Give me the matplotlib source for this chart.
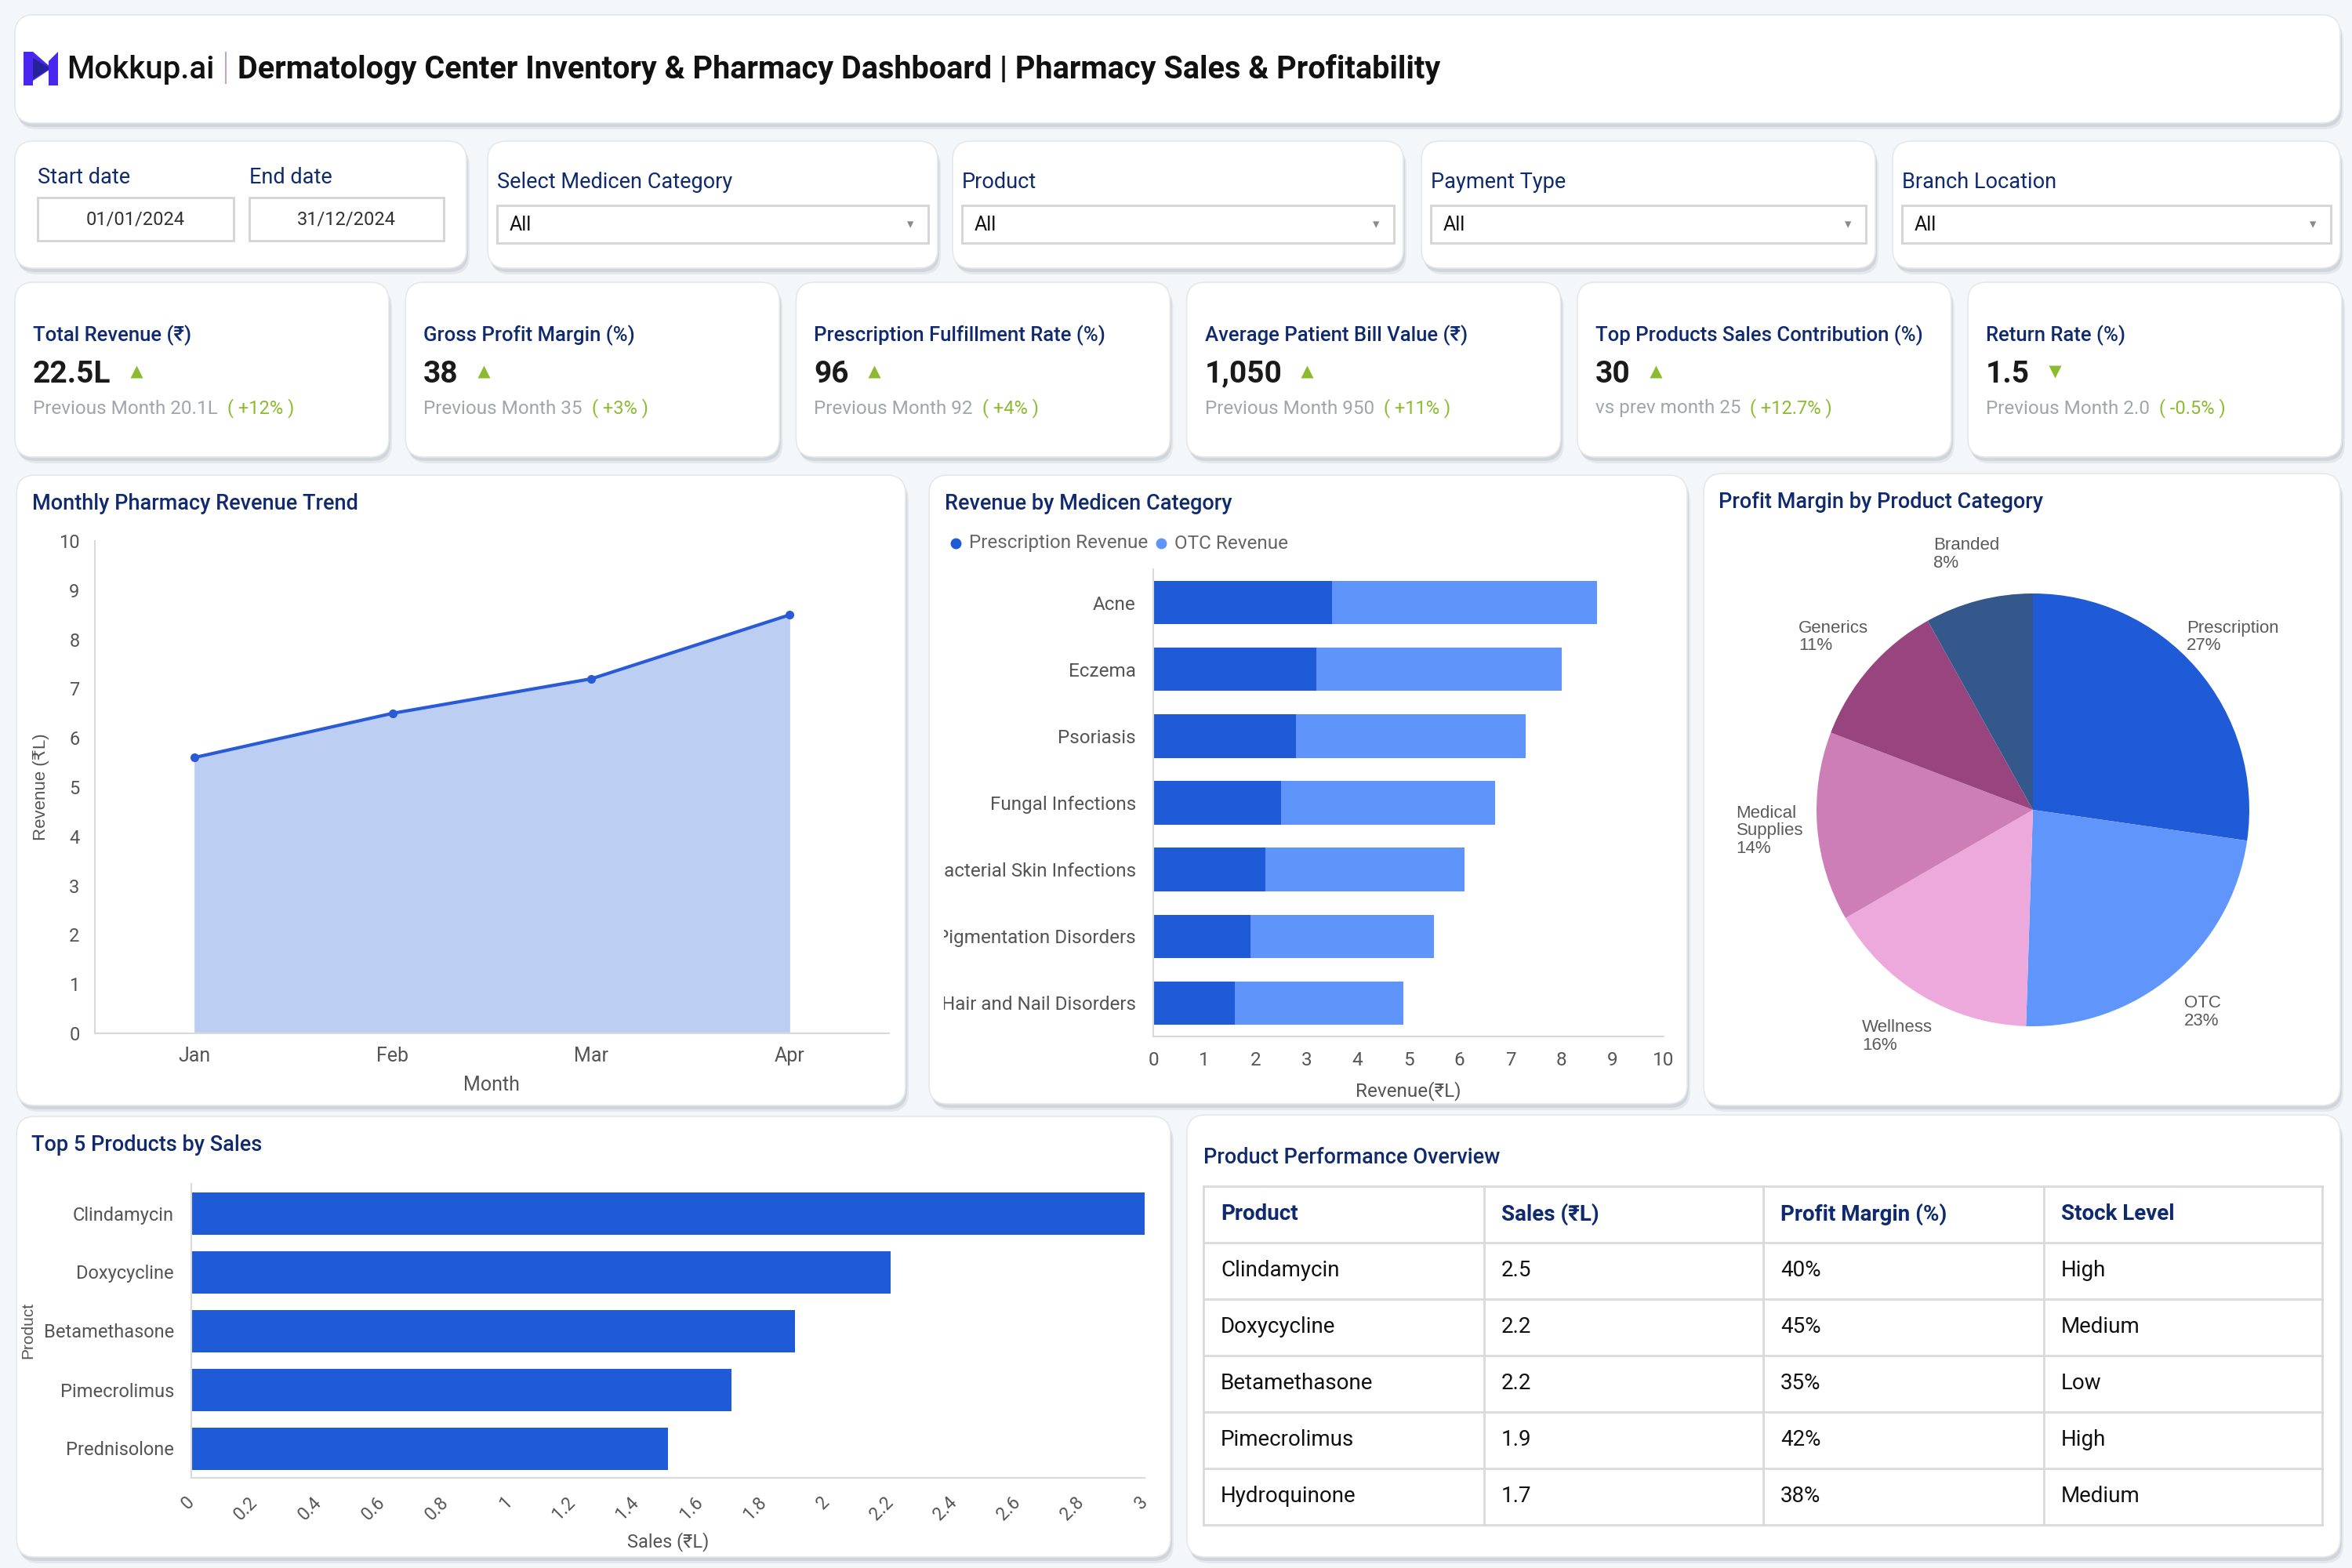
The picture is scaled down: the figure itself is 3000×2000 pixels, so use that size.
import matplotlib
matplotlib.use('Agg')
import matplotlib.pyplot as plt
import numpy as np
from matplotlib.patches import FancyBboxPatch, Rectangle, Polygon
from matplotlib.transforms import Bbox, TransformedBbox

W, H = 3000, 2000
plt.rcParams['font.family'] = ['Roboto', 'DejaVu Sans']
ARIAL = ['Liberation Sans', 'DejaVu Sans']

NAVY = '#0f2a6e'
BLUE = '#1f5bd6'
LIGHT = '#5f95fb'
GREEN = '#8cbb2f'
GRAY = '#555555'

# ---- data ----
header_title = 'Dermatology Center Inventory & Pharmacy Dashboard | Pharmacy Sales & Profitability'
start_date, end_date = '01/01/2024', '31/12/2024'
filter_labels = ['Select Medicen Category', 'Product', 'Payment Type', 'Branch Location']

kpi_titles = ['Total Revenue (₹)', 'Gross Profit Margin (%)', 'Prescription Fulfillment Rate (%)',
              'Average Patient Bill Value (₹)', 'Top Products Sales Contribution (%)', 'Return Rate (%)']
kpi_values = ['22.5L', '38', '96', '1,050', '30', '1.5']
kpi_prev = ['Previous Month 20.1L', 'Previous Month 35', 'Previous Month 92',
            'Previous Month 950', 'vs prev month 25', 'Previous Month 2.0']
kpi_delta = ['+12%', '+3%', '+4%', '+11%', '+12.7%', '-0.5%']
kpi_up = [True, True, True, True, True, False]

months = ['Jan', 'Feb', 'Mar', 'Apr']
month_revenue = [5.6, 6.5, 7.2, 8.5]

med_categories = ['Acne', 'Eczema', 'Psoriasis', 'Fungal Infections', 'Bacterial Skin Infections',
                  'Pigmentation Disorders', 'Hair and Nail Disorders']
rx_revenue = [3.5, 3.2, 2.8, 2.5, 2.2, 1.9, 1.6]
otc_revenue = [5.2, 4.8, 4.5, 4.2, 3.9, 3.6, 3.3]

pie_labels = ['Prescription', 'OTC', 'Wellness', 'Medical\nSupplies', 'Generics', 'Branded']
pie_values = [27, 23, 16, 14, 11, 8]
pie_colors = ['#1f5bd6', '#6095fb', '#eda9dc', '#cd7eb6', '#98457f', '#34588c']

top_products = ['Clindamycin', 'Doxycycline', 'Betamethasone', 'Pimecrolimus', 'Prednisolone']
top_sales = [3.0, 2.2, 1.9, 1.7, 1.5]

table_header = ['Product', 'Sales (₹L)', 'Profit Margin (%)', 'Stock Level']
table_products = ['Clindamycin', 'Doxycycline', 'Betamethasone', 'Pimecrolimus', 'Hydroquinone']
table_sales = ['2.5', '2.2', '2.2', '1.9', '1.7']
table_margin = ['40%', '45%', '35%', '42%', '38%']
table_stock = ['High', 'Medium', 'Low', 'High', 'Medium']

# ---- canvas ----
fig = plt.figure(figsize=(30, 20), dpi=100, facecolor='#f3f7fa')
bg = fig.add_axes([0, 0, 1, 1])
bg.set_xlim(0, W)
bg.set_ylim(H, 0)
bg.axis('off')
renderer = fig.canvas.get_renderer()


def card(x0, y0, x1, y1, r=24):
    for dx, dy, a in [(4, 8, 0.25), (2, 5, 0.45)]:
        bg.add_patch(FancyBboxPatch((x0 + dx, y0 + dy), x1 - x0, y1 - y0,
                                    boxstyle=f'round,pad=0,rounding_size={r}',
                                    fc='#b9bec4', ec='none', alpha=a))
    bg.add_patch(FancyBboxPatch((x0, y0), x1 - x0, y1 - y0,
                                boxstyle=f'round,pad=0,rounding_size={r}',
                                fc='white', ec='#e4e8eb', lw=1.2))


def ax_at(x0, y0, x1, y1):
    return fig.add_axes([x0 / W, 1 - y1 / H, (x1 - x0) / W, (y1 - y0) / H])


def style(ax):
    for s in ['top', 'right']:
        ax.spines[s].set_visible(False)
    for s in ['left', 'bottom']:
        ax.spines[s].set_color('#d9d9d9')
        ax.spines[s].set_linewidth(1.5)
    ax.tick_params(length=0, colors=GRAY)


def right_of(t):
    return t.get_window_extent(renderer).x1


# ---- header ----
card(19, 19, 2985, 157)
bg.add_patch(Polygon([(30, 66), (42, 66), (66, 87), (42, 103), (42, 109), (30, 109)], fc='#4a27f0', ec='none'))
bg.add_patch(Polygon([(42, 74), (64, 87), (42, 101)], fc='#26239a', ec='none'))
bg.add_patch(Polygon([(62, 78), (74, 66), (74, 109), (62, 109)], fc='#4a27f0', ec='none'))
bg.text(85, 89, 'Mokkup.ai', fontsize=29, fontweight='medium', color='#111111', va='center')
bg.plot([288, 288], [67, 106], color='#c4a3c6', lw=1.5)
bg.text(303, 88, header_title, fontsize=28.5, fontweight='bold', color='#111111', va='center')

# ---- filters ----
card(19, 180, 595, 342)
bg.text(48, 227, 'Start date', fontsize=19.5, color=NAVY, va='center')
bg.text(318, 227, 'End date', fontsize=19.5, color=NAVY, va='center')
for (x0, x1), d in zip([(48, 298), (318, 566)], [start_date, end_date]):
    bg.add_patch(Rectangle((x0, 252), x1 - x0, 55, fc='white', ec='#d4d4d4', lw=2))
    bg.text((x0 + x1) / 2, 280, d, fontsize=17, color='#333333', ha='center', va='center')

filter_cards = [(622, 1196), (1215, 1790), (1813, 2392), (2414, 2985)]
for (c0, c1), lab in zip(filter_cards, filter_labels):
    card(c0, 180, c1, 342)
    bg.text(c0 + 12, 232, lab, fontsize=19.5, color=NAVY, va='center')
    bg.add_patch(Rectangle((c0 + 12, 262), c1 - c0 - 24, 48, fc='white', ec='#d4d4d4', lw=2))
    bg.text(c0 + 28, 287, 'All', fontsize=18, color='#111111', va='center')
    bg.text(c1 - 35, 287, '▾', fontsize=12, color='#8a8a8a', va='center', ha='center')

# ---- KPI cards ----
for i in range(6):
    x0 = 19 + i * 498.2
    card(x0, 360, x0 + 477, 583)
    tx = x0 + 23
    bg.text(tx, 428, kpi_titles[i], fontsize=18.5, fontweight='medium', color=NAVY, va='center')
    v = bg.text(tx, 477, kpi_values[i], fontsize=28, fontweight='bold', color='#1a1a1a', va='center')
    bg.plot(right_of(v) + 32, 474, marker='^' if kpi_up[i] else 'v', ms=12, color=GREEN, mec='none')
    p = bg.text(tx, 521, kpi_prev[i], fontsize=17.5, color='#a2a6ab', va='center')
    bg.text(right_of(p) + 12, 521, f'( {kpi_delta[i]} )', fontsize=17, color=GREEN, va='center')

# ---- Monthly revenue trend ----
card(21, 606, 1155, 1410)
bg.text(41, 642, 'Monthly Pharmacy Revenue Trend', fontsize=19.5, fontweight='medium', color=NAVY, va='center')
ax1 = ax_at(121, 690, 1134, 1318)
x = np.arange(len(months))
ax1.fill_between(x, month_revenue, color='#bccff3', lw=0)
ax1.plot(x, month_revenue, color='#2a5bd7', lw=3, marker='o', ms=7, mfc='#2a5bd7')
ax1.set_xlim(-0.5, 3.5)
ax1.set_ylim(0, 10)
ax1.set_yticks(range(0, 11))
ax1.set_xticks(x, months)
style(ax1)
ax1.tick_params(axis='y', labelsize=17, pad=14)
ax1.tick_params(axis='x', labelsize=18, pad=12)
bg.text(52, 1004, 'Revenue (₹L)', rotation=90, fontsize=16, color=GRAY, family=ARIAL, ha='center', va='center')
bg.text(627, 1384, 'Month', fontsize=18, color=GRAY, ha='center', va='center')

# ---- Revenue by medicine category ----
card(1185, 606, 2152, 1408)
bg.text(1205, 642, 'Revenue by Medicen Category', fontsize=19.5, fontweight='medium', color=NAVY, va='center')
for cx, col, lab in [(1219, BLUE, 'Prescription Revenue'), (1481, LIGHT, 'OTC Revenue')]:
    bg.plot(cx, 693, 'o', ms=9, color=col)
    bg.text(cx + 17, 693, lab, fontsize=17.5, color='#666666', va='center')
ax2 = ax_at(1471, 726, 2122, 1322)
y = np.arange(len(med_categories))
ax2.barh(y, rx_revenue, height=0.65, color=BLUE)
ax2.barh(y, otc_revenue, left=rx_revenue, height=0.65, color=LIGHT)
ax2.set_xlim(0, 10)
ax2.set_ylim(len(med_categories) - 0.5, -0.5)
ax2.set_xticks(range(0, 11))
ax2.set_yticks(y, med_categories)
style(ax2)
ax2.tick_params(axis='y', labelsize=17.5, pad=16)
ax2.tick_params(axis='x', labelsize=17.5, pad=14)
clip = TransformedBbox(Bbox.from_extents(1204 / W, 0, 1, 1), fig.transFigure)
for lbl in ax2.get_yticklabels():
    lbl.set_clip_box(clip)
    lbl.set_clip_on(True)
bg.text(1796, 1392, 'Revenue(₹L)', fontsize=17.5, color=GRAY, ha='center', va='center')

# ---- Profit margin pie ----
card(2173, 604, 2985, 1410)
bg.text(2192, 641, 'Profit Margin by Product Category', fontsize=19.5, fontweight='medium', color=NAVY, va='center')
ax3 = ax_at(2593 - 276, 1033 - 276, 2593 + 276, 1033 + 276)
ax3.pie(pie_values, colors=pie_colors, startangle=90, counterclock=False, radius=1,
        wedgeprops=dict(lw=0))
ax3.set_xlim(-1, 1)
ax3.set_ylim(-1, 1)
vals = np.array(pie_values, dtype=float)
frac = vals / vals.sum()
mid = np.deg2rad(90 - (np.cumsum(frac) - frac / 2) * 360)
for lab, v, a in zip(pie_labels, pie_values, mid):
    ax3.text(1.22 * np.cos(a), 1.22 * np.sin(a), f'{lab}\n{v}%', fontsize=16, color='#5a5a5a',
             family=ARIAL, ha='center', va='center', multialignment='left', linespacing=1.1)

# ---- Top 5 products ----
card(21, 1424, 1493, 1986)
bg.text(40, 1461, 'Top 5 Products by Sales', fontsize=19.5, fontweight='medium', color=NAVY, va='center')
ax4 = ax_at(244, 1510, 1460, 1885)
yp = np.arange(len(top_products))
ax4.barh(yp, top_sales, height=0.72, color=BLUE)
ax4.set_xlim(0, 3)
ax4.set_ylim(len(top_products) - 0.5, -0.5)
ticks = np.round(np.arange(0, 3.01, 0.2), 1)
ax4.set_xticks(ticks, [f'{t:g}' for t in ticks], rotation=45, ha='right', va='center', rotation_mode='anchor')
ax4.set_yticks(yp, top_products)
style(ax4)
ax4.tick_params(axis='y', labelsize=17, pad=16)
ax4.tick_params(axis='x', labelsize=16.5, pad=20)
bg.text(36, 1697, 'Product', rotation=90, fontsize=15, color=GRAY, family=ARIAL, ha='center', va='center')
bg.text(852, 1967, 'Sales (₹L)', fontsize=17, color=GRAY, ha='center', va='center')

# ---- Product performance table ----
card(1514, 1422, 2985, 1986)
bg.text(1535, 1477, 'Product Performance Overview', fontsize=19.5, fontweight='medium', color=NAVY, va='center')
col_x = [1535, 1893, 2249, 2607, 2962]
row_y = [1513 + 72 * k for k in range(7)]
for cx in col_x:
    bg.plot([cx, cx], [row_y[0], row_y[-1]], color='#dadada', lw=2)
for ry in row_y:
    bg.plot([col_x[0], col_x[-1]], [ry, ry], color='#dadada', lw=2)
for j, h in enumerate(table_header):
    bg.text(col_x[j] + 22, (row_y[0] + row_y[1]) / 2, h, fontsize=20, fontweight='bold', color=NAVY, va='center')
for i, row in enumerate(zip(table_products, table_sales, table_margin, table_stock)):
    yc = (row_y[i + 1] + row_y[i + 2]) / 2
    for j, cell in enumerate(row):
        bg.text(col_x[j] + 22, yc, cell, fontsize=20, color='#111111', va='center')

fig.savefig('out.png', dpi=100, facecolor=fig.get_facecolor())
